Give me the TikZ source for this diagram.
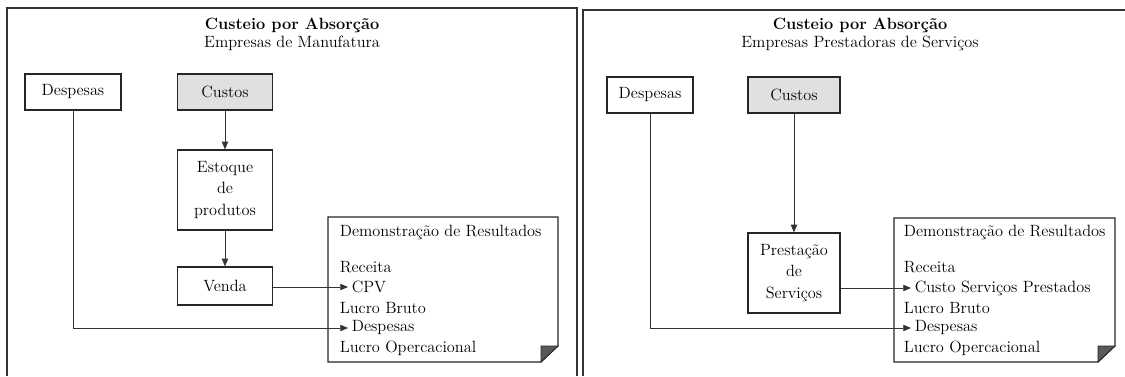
\documentclass[tikz,border=0pt]{standalone}
\usepackage{tikz}
\usetikzlibrary{positioning, arrows.meta}

\tikzset{
  box/.style={draw=black!85, line width=0.8pt, align=center, inner sep=2pt},
  shadedbox/.style={box, fill=black!12},
  resline/.style={anchor=west, inner sep=2.5pt},
  arr/.style={draw=black!80, line width=0.6pt, -{Triangle[length=5.5pt,width=4.5pt]}},
  frame/.style={draw=black!80, line width=0.9pt},
  sheet/.style={draw=black!85, line width=0.8pt, fill=white},
  flap/.style={draw=black!85, line width=0.6pt, fill=black!65},
}

\begin{document}
\begin{tikzpicture}[x=0.025cm, y=-0.025cm, font=\fontsize{11.6}{15}\selectfont]
    \useasboundingbox (0,0) rectangle (1125,376);

    % Manufatura
    \draw[frame] (7,376) -- (7,8) -- (577,8) -- (577,376);
    \node (tit1) at (292,25) {\bfseries Custeio por Absorção};
    \node (sub1) at (292,43) {Empresas de Manufatura};
    % Boxes
    \node[box, minimum width=2.4cm, minimum height=0.9cm] (dsp1) at (73,92) {Despesas};
    \node[shadedbox, minimum width=2.375cm, minimum height=0.9cm] (cst1) at (225,92) {Custos};
    \node[box, minimum width=2.375cm, minimum height=2cm] (est1) at (225,190) {Estoque\\de\\produtos};
    \node[box, minimum width=2.375cm, minimum height=0.95cm] (vnd1) at (225,286) {Venda};
    % Demonstracao
    \draw[sheet] (328,217) -- (558,217) -- (558,346) -- (541,362) -- (328,362) -- cycle;
    \draw[flap] (541,346) -- (558,346) -- (541,362) -- cycle;
    \node[resline] (dem1) at (336,232) {Demonstração de Resultados};
    \node[resline] (rec1) at (336,267) {Receita};
    \node[resline] (cpv1) at (348,287) {CPV};
    \node[resline] (lbr1) at (336,308) {Lucro Bruto};
    \node[resline] (dsl1) at (348,328) {Despesas};
    \node[resline] (lop1) at (336,348) {Lucro Opercacional};
    % Arrows
    \draw[arr] (cst1) -- (est1);
    \draw[arr] (est1) -- (vnd1);
    \draw[arr] (vnd1.east |- cpv1.west) -- (cpv1.west);
    \draw[arr] (dsp1) |- (dsl1.west);

    % Servicos
    \draw[frame] (583,376) -- (583,10) -- (1125,10);
    \node (tit2) at (860,25) {\bfseries Custeio por Absorção};
    \node (sub2) at (860,43) {Empresas Prestadoras de Serviços};
    % Boxes
    \node[box, minimum width=2.15cm, minimum height=0.9cm] (dsp2) at (650,95) {Despesas};
    \node[shadedbox, minimum width=2.3cm, minimum height=0.9cm] (cst2) at (794,95) {Custos};
    \node[box, minimum width=2.3cm, minimum height=2cm] (prs2) at (794,273) {Prestação\\de\\Serviços};
    % Demonstracao
    \draw[sheet] (894,218) -- (1115,218) -- (1115,346) -- (1098,362) -- (894,362) -- cycle;
    \draw[flap] (1098,346) -- (1115,346) -- (1098,362) -- cycle;
    \node[resline] (dem2) at (900,232) {Demonstração de Resultados};
    \node[resline] (rec2) at (900,267) {Receita};
    \node[resline] (csp2) at (911,288) {Custo Serviços Prestados};
    \node[resline] (lbr2) at (900,308) {Lucro Bruto};
    \node[resline] (dsl2) at (911,328) {Despesas};
    \node[resline] (lop2) at (900,348) {Lucro Opercacional};
    % Arrows
    \draw[arr] (cst2) -- (prs2);
    \draw[arr] (prs2.east |- csp2.west) -- (csp2.west);
    \draw[arr] (dsp2) |- (dsl2.west);
\end{tikzpicture}
\end{document}
